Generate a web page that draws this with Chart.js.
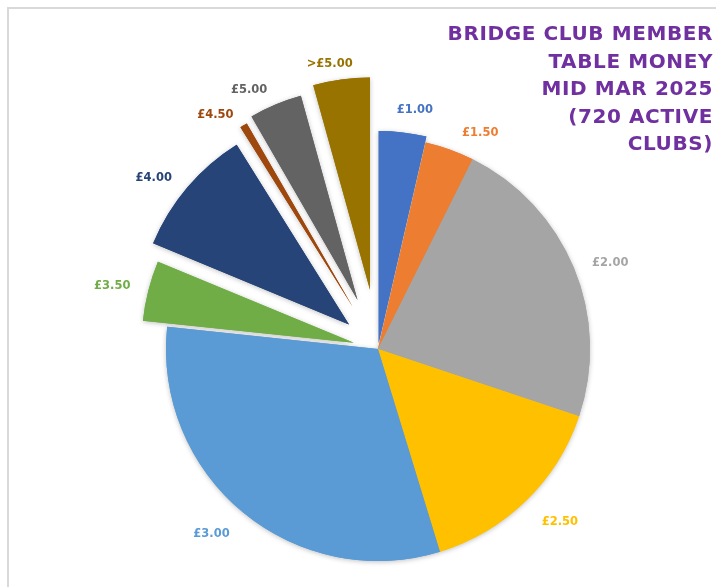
<!DOCTYPE html>
<html>
<head>
<meta charset="utf-8">
<script src="https://cdn.jsdelivr.net/npm/chart.js@4.4.1/dist/chart.umd.min.js"></script>
<style>
html,body{margin:0;padding:0;background:#ffffff;}
#wrap{position:relative;width:716px;height:587px;}
</style>
</head>
<body>
<div id="wrap"><canvas id="c"></canvas></div>
<script>
// ---- data ----
const categories = ['£1.00', '£1.50', '£2.00', '£2.50', '£3.00', '£3.50', '£4.00', '£4.50', '£5.00', '>£5.00'];
const clubs = [26, 27, 164, 109, 226, 33, 71, 4, 29, 31];
const titleLines = ['BRIDGE CLUB MEMBER', 'TABLE MONEY', 'MID MAR 2025', '(720 ACTIVE', 'CLUBS)'];

// ---- styles / layout ----
const sliceColors = ['#4472C4', '#ED7D31', '#A5A5A5', '#FFC000', '#5B9BD5', '#70AD47', '#264478', '#9E480E', '#636363', '#997300'];
const explodePx = [6, 0, 0, 0, 0, 25, 38, 49, 53, 60];
const labelNudge = [[8, 2], [18, 7], [2, 5], [8, 3], [-8, 2], [0, 2], [-5, 7], [-9, 11], [-12, 8], [-6, 9]];
const RADIUS = 212;
const LABEL_GAP = 19;

// keep exploded slices at the same radius and angle (Chart.js enlarges and narrows offset arcs)
const fixArcs = {
  id: 'fixArcs',
  afterDatasetUpdate(chart, args) {
    const meta = chart.getDatasetMeta(args.index);
    meta.data.forEach((el, i) => {
      const off = explodePx[i];
      if (!off) return;
      const circ = el.circumference;
      const fix = 1 - Math.sin(Math.min(Math.PI, circ));
      const radOff = off * fix;
      el.outerRadius = RADIUS - radOff;
      const ao = radOff / (2 * Math.PI * RADIUS);
      el.startAngle -= ao;
      el.endAngle += ao;
    });
  }
};

const frameAndShadow = {
  id: 'frameAndShadow',
  beforeDraw(chart) {
    const ctx = chart.ctx;
    ctx.save();
    ctx.fillStyle = '#ffffff';
    ctx.fillRect(0, 0, chart.width, chart.height);
    ctx.strokeStyle = '#d9d9d9';
    ctx.lineWidth = 2;
    ctx.beginPath();
    ctx.moveTo(8, chart.height);
    ctx.lineTo(8, 8);
    ctx.lineTo(chart.width, 8);
    ctx.stroke();
    ctx.restore();
  },
  beforeDatasetDraw(chart, args) {
    const ctx = chart.ctx;
    const meta = chart.getDatasetMeta(args.index);
    ctx.save();
    ctx.shadowColor = 'rgba(0,0,0,0.25)';
    ctx.shadowBlur = 5;
    ctx.shadowOffsetX = 0;
    ctx.shadowOffsetY = 1;
    meta.data.forEach(el => el.draw(ctx));
    ctx.restore();
  }
};

const labelsAndTitle = {
  id: 'labelsAndTitle',
  afterDraw(chart) {
    const ctx = chart.ctx;
    const meta = chart.getDatasetMeta(0);
    ctx.save();
    ctx.font = 'bold 11.5px "DejaVu Sans"';
    ctx.textAlign = 'center';
    ctx.textBaseline = 'middle';
    meta.data.forEach((el, i) => {
      const mid = (el.startAngle + el.endAngle) / 2;
      const ux = Math.cos(mid), uy = Math.sin(mid);
      const d = RADIUS + explodePx[i] + LABEL_GAP;
      const w = ctx.measureText(categories[i]).width;
      const h = 12;
      const x = el.x + ux * d + ux * w / 2 + labelNudge[i][0];
      const y = el.y + uy * d + uy * h / 2 + labelNudge[i][1];
      ctx.fillStyle = sliceColors[i];
      ctx.fillText(categories[i], x, y);
    });
    ctx.font = 'bold 20px "DejaVu Sans"';
    try { ctx.letterSpacing = '0.6px'; } catch (e) {}
    ctx.fillStyle = '#7030A0';
    ctx.textAlign = 'right';
    titleLines.forEach((t, i) => {
      ctx.fillText(t, 713, 35 + i * 27.5);
    });
    ctx.restore();
  }
};

new Chart(document.getElementById('c'), {
  type: 'pie',
  data: {
    labels: categories,
    datasets: [{
      data: clubs,
      backgroundColor: sliceColors,
      borderWidth: 0,
      offset: explodePx.map(v => v * 4)
    }]
  },
  options: {
    responsive: true,
    maintainAspectRatio: false,
    animation: false,
    events: [],
    radius: RADIUS,
    layout: { padding: { left: 40, right: 0, top: 111, bottom: 0 } },
    plugins: {
      legend: { display: false },
      title: { display: false },
      tooltip: { enabled: false }
    }
  },
  plugins: [fixArcs, frameAndShadow, labelsAndTitle]
});
</script>
</body>
</html>
